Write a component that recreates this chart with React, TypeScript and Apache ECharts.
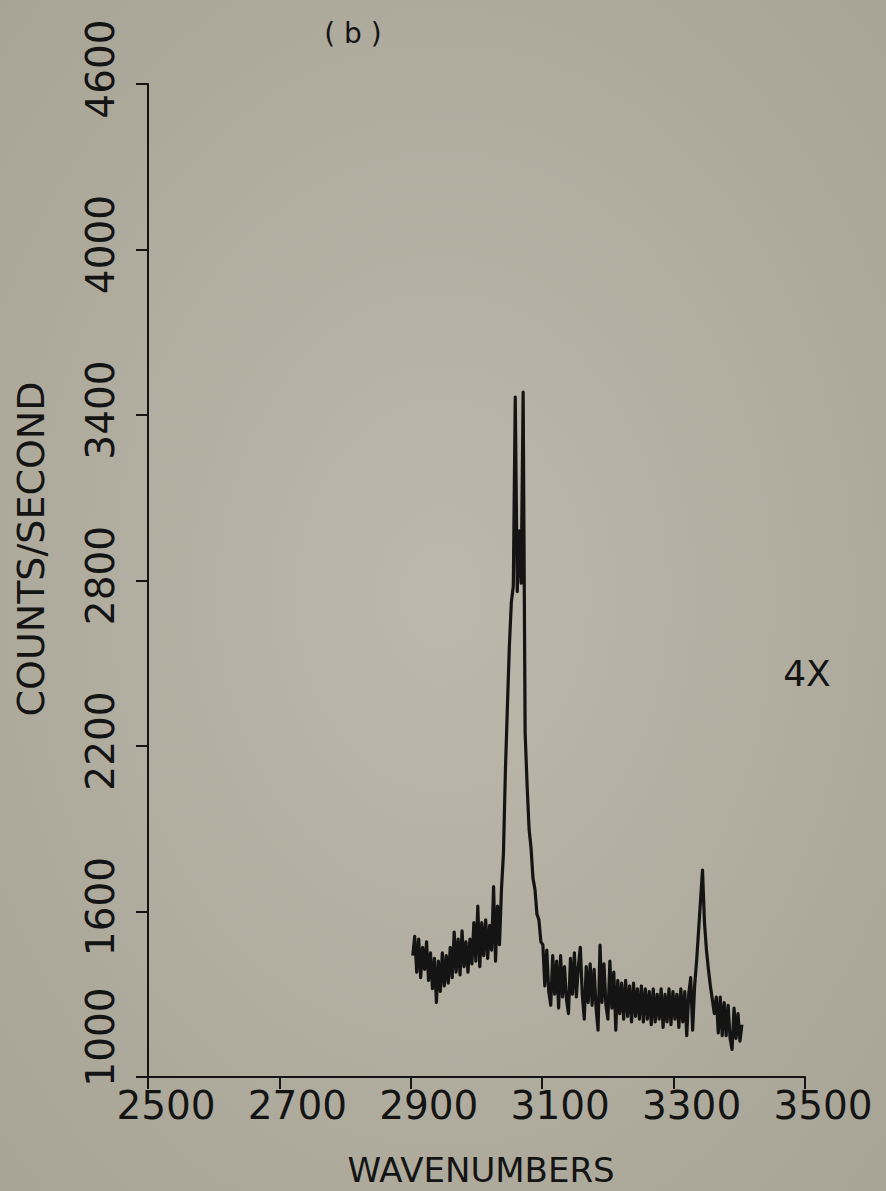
import React, { useEffect, useRef } from "react";
import * as echarts from "echarts";

const wavenumbers = [
  2903, 2906, 2909, 2912, 2915, 2918, 2921, 2924, 2927, 2930,
  2933, 2936, 2939, 2942, 2945, 2948, 2951, 2954, 2957, 2960,
  2963, 2966, 2969, 2972, 2975, 2978, 2981, 2984, 2987, 2990,
  2993, 2996, 2999, 3002, 3005, 3008, 3011, 3014, 3017, 3020,
  3023, 3026, 3029, 3032, 3035, 3038, 3041, 3044, 3047, 3050,
  3053, 3056, 3059, 3062, 3065, 3068, 3071, 3074, 3077, 3080,
  3083, 3086, 3089, 3092, 3095, 3098, 3101, 3104, 3107, 3110,
  3113, 3116, 3119, 3122, 3125, 3128, 3131, 3134, 3137, 3140,
  3143, 3146, 3149, 3152, 3155, 3158, 3161, 3164, 3167, 3170,
  3173, 3176, 3179, 3182, 3185, 3188, 3191, 3194, 3197, 3200,
  3203, 3206, 3209, 3212, 3215, 3218, 3221, 3224, 3227, 3230,
  3233, 3236, 3239, 3242, 3245, 3248, 3251, 3254, 3257, 3260,
  3263, 3266, 3269, 3272, 3275, 3278, 3281, 3284, 3287, 3290,
  3293, 3296, 3299, 3302, 3305, 3308, 3311, 3314, 3317, 3320,
  3323, 3326, 3329, 3332, 3335, 3338, 3341, 3344, 3347, 3350,
  3353, 3356, 3359, 3362, 3365, 3368, 3371, 3374, 3377, 3380,
  3383, 3386, 3389, 3392, 3395, 3398, 3401, 3404,
];

const counts = [
  1440, 1510, 1380, 1500, 1360, 1470, 1390, 1490, 1350, 1450,
  1320, 1430, 1270, 1420, 1310, 1450, 1330, 1440, 1340, 1470,
  1360, 1525, 1380, 1500, 1370, 1530, 1400, 1490, 1380, 1500,
  1410, 1560, 1420, 1620, 1400, 1560, 1440, 1570, 1430, 1550,
  1460, 1690, 1420, 1620, 1480, 1680, 1810, 2110, 2340, 2560,
  2720, 2780, 3465, 2760, 2980, 2790, 3483, 2250, 2060, 1900,
  1830, 1720, 1680, 1590, 1570, 1490, 1480, 1330, 1460, 1310,
  1260, 1440, 1300, 1420, 1250, 1440, 1290, 1400, 1280, 1230,
  1430, 1300, 1450, 1290, 1400, 1470, 1300, 1210, 1400, 1270,
  1410, 1260, 1390, 1250, 1170, 1478, 1270, 1410, 1260, 1210,
  1420, 1250, 1380, 1170, 1350, 1230, 1340, 1210, 1350, 1220,
  1330, 1200, 1340, 1220, 1320, 1210, 1330, 1200, 1320, 1210,
  1310, 1190, 1320, 1200, 1300, 1210, 1320, 1180, 1300, 1200,
  1320, 1190, 1310, 1210, 1300, 1180, 1320, 1200, 1310, 1150,
  1300, 1360, 1170, 1330, 1420, 1530, 1640, 1750, 1560, 1460,
  1390, 1330, 1280, 1230, 1290, 1160, 1290, 1150, 1270, 1150,
  1260, 1140, 1100, 1250, 1140, 1230, 1130, 1190,
];

const xMin = 2500;
const xMax = 3500;
const xStep = 200;
const yMin = 1000;
const yMax = 4600;
const yStep = 600;

const panelLabel = "( b )";
const scaleLabel = "4X";
const xName = "WAVENUMBERS";
const yName = "COUNTS/SECOND";

const FONT = "DejaVu Sans";
const INK = "#141414";

export default function App() {
  const ref = useRef<HTMLDivElement>(null);
  useEffect(() => {
    const chart = echarts.init(ref.current!, null, { renderer: "svg" });
    const labelStyle = { color: INK, fontFamily: FONT, fontSize: 39 };
    chart.setOption({
      animation: false,
      backgroundColor: new echarts.graphic.RadialGradient(0.5, 0.5, 0.75, [
        { offset: 0, color: "#bcb9ac" },
        { offset: 1, color: "#a6a395" },
      ]),
      grid: { left: 148, right: 81, top: 84, bottom: 114, containLabel: false },
      xAxis: {
        type: "value",
        min: xMin,
        max: xMax,
        interval: xStep,
        axisLine: { show: true, lineStyle: { color: INK, width: 2 } },
        axisTick: { show: true, inside: false, length: 12, lineStyle: { color: INK, width: 2 } },
        splitLine: { show: false },
        axisLabel: {
          show: true,
          margin: 9,
          ...labelStyle,
          formatter: (v: number) => `{s|${v}}`,
          rich: { s: { ...labelStyle, padding: [0, 0, 0, 36] } },
        },
      },
      yAxis: {
        type: "value",
        min: yMin,
        max: yMax,
        interval: yStep,
        axisLine: { show: true, lineStyle: { color: INK, width: 2 } },
        axisTick: { show: true, inside: false, length: 12, lineStyle: { color: INK, width: 2 } },
        splitLine: { show: false },
        axisLabel: {
          show: true,
          rotate: 90,
          margin: 28,
          ...labelStyle,
          formatter: (v: number) =>
            v === yMin ? `{lo|${v}}` : v === yMax ? `{hi|${v}}` : `{n|${v}}`,
          rich: {
            n: { ...labelStyle, padding: [0, 0, 0, 10] },
            hi: { ...labelStyle, padding: [0, 0, 0, 30] },
            lo: { ...labelStyle, padding: [0, 0, 0, 80] },
          },
        },
      },
      graphic: [
        {
          type: "text",
          x: 31,
          y: 549,
          rotation: Math.PI / 2,
          style: {
            text: yName,
            fill: INK,
            font: `38px "${FONT}"`,
            align: "center",
            verticalAlign: "middle",
          },
        },
        {
          type: "text",
          x: 481,
          y: 1170,
          style: {
            text: xName,
            fill: INK,
            font: `34px "${FONT}"`,
            align: "center",
            verticalAlign: "middle",
          },
        },
        {
          type: "text",
          x: 353,
          y: 33,
          style: {
            text: panelLabel,
            fill: INK,
            font: `28px "${FONT}"`,
            align: "center",
            verticalAlign: "middle",
          },
        },
        {
          type: "text",
          x: 807,
          y: 673,
          style: {
            text: scaleLabel,
            fill: INK,
            font: `36px "${FONT}"`,
            align: "center",
            verticalAlign: "middle",
          },
        },
      ],
      series: [
        {
          type: "line",
          data: wavenumbers.map((w, i) => [w, counts[i]]),
          showSymbol: false,
          symbol: "none",
          silent: true,
          lineStyle: { color: INK, width: 3.2, join: "round" },
        },
      ],
    });
    return () => chart.dispose();
  }, []);
  return (
    <div
      ref={ref}
      style={{ position: "absolute", left: 0, top: 0, width: 886, height: 1191 }}
    />
  );
}
